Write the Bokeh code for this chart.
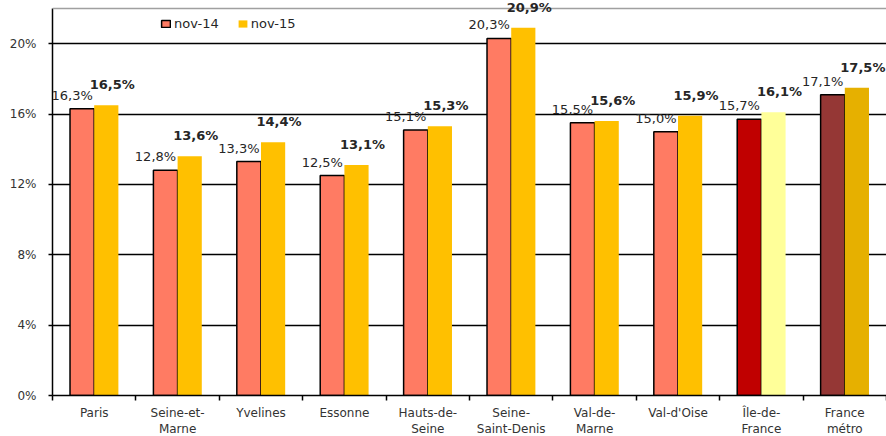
from bokeh.plotting import figure
from bokeh.models import ColumnDataSource, FixedTicker, Range1d, Legend, LegendItem, LabelSet, Span
from bokeh.core.properties import value
from bokeh.embed import file_html
from bokeh.resources import INLINE

categories = ["Paris", "Seine-et-\nMarne", "Yvelines", "Essonne", "Hauts-de-\nSeine",
              "Seine-\nSaint-Denis", "Val-de-\nMarne", "Val-d'Oise", "Île-de-\nFrance", "France\nmétro"]
nov14 = [16.3, 12.8, 13.3, 12.5, 15.1, 20.3, 15.5, 15.0, 15.7, 17.1]
nov15 = [16.5, 13.6, 14.4, 13.1, 15.3, 20.9, 15.6, 15.9, 16.1, 17.5]
y_ticks = [0, 4, 8, 12, 16, 20]
y_max = 22

colors14 = ["#FF7B63"] * 8 + ["#C00000", "#953735"]
colors15 = ["#FFC000"] * 8 + ["#FFFF99", "#E6B000"]

FONT = "DejaVu Sans"
n = len(categories)
centers = [i + 0.5 for i in range(n)]
bw = 0.29

def fmt(v):
    return ("%.1f" % v).replace(".", ",") + "%"

src14 = ColumnDataSource(dict(x=[c - bw / 2 for c in centers], top=nov14, color=colors14,
                              label=[fmt(v) for v in nov14]))
src15 = ColumnDataSource(dict(x=[c + bw / 2 for c in centers], top=nov15, color=colors15,
                              label=[fmt(v) for v in nov15]))

# frame extends 8px above the chart's top border so labels there are not clipped
p = figure(frame_width=834, frame_height=395, output_backend="svg", toolbar_location=None,
           x_range=Range1d(0, n), y_range=Range1d(0, y_max * 395 / 387),
           min_border_left=52, min_border_right=0, min_border_top=0, min_border_bottom=41)
p.background_fill_color = "white"
p.border_fill_color = "white"
p.outline_line_color = None

p.add_layout(Span(location=y_max, dimension="width", line_color="#A0A0A0", line_width=1.5))

r14 = p.vbar(x="x", top="top", width=bw, bottom=0, source=src14, fill_color="color",
             line_color="black", line_width=1.5)
r15 = p.vbar(x="x", top="top", width=bw, bottom=0, source=src15, fill_color="color",
             line_color=None)

p.add_layout(LabelSet(x="x", y="top", text="label", source=src14, text_align="center",
                      text_baseline="alphabetic", x_offset=-10, y_offset=9,
                      text_font=value(FONT), text_font_size="13px", text_color="#262626"))
p.add_layout(LabelSet(x="x", y="top", text="label", source=src15, text_align="center",
                      text_baseline="alphabetic", x_offset=6, y_offset=16,
                      text_font=value(FONT), text_font_size="13px", text_font_style="bold",
                      text_color="#262626"))

# axes
xa = p.xaxis[0]
xa.ticker = FixedTicker(ticks=centers, minor_ticks=list(range(n + 1)))
xa.major_label_overrides = {c: lab for c, lab in zip(centers, categories)}
xa.major_tick_out = 0
xa.major_tick_in = 0
xa.minor_tick_out = 5
xa.minor_tick_in = 0
xa.minor_tick_line_color = "black"
xa.minor_tick_line_width = 1.5
xa.axis_line_color = "black"
xa.axis_line_width = 1.5
xa.major_label_text_font = FONT
xa.major_label_text_font_size = "12px"
xa.major_label_text_color = "#333333"
xa.major_label_standoff = 5

ya = p.yaxis[0]
ya.ticker = FixedTicker(ticks=y_ticks)
ya.bounds = (0, y_max)
ya.major_label_overrides = {t: "%d%%" % t for t in y_ticks}
ya.major_tick_out = 4
ya.major_tick_in = 0
ya.minor_tick_line_color = None
ya.major_tick_line_color = "black"
ya.major_tick_line_width = 1.5
ya.axis_line_color = "black"
ya.axis_line_width = 1.5
ya.major_label_text_font = FONT
ya.major_label_text_font_size = "12px"
ya.major_label_text_color = "#333333"
ya.major_label_standoff = 12

p.xgrid.grid_line_color = None
p.ygrid.ticker = FixedTicker(ticks=y_ticks[1:])
p.ygrid.grid_line_color = "black"
p.ygrid.grid_line_width = 1.5

legend = Legend(items=[LegendItem(label="nov-14", renderers=[r14], index=0),
                       LegendItem(label="nov-15", renderers=[r15], index=0)],
                orientation="horizontal", location=(108, 364))
legend.border_line_color = None
legend.background_fill_alpha = 0
legend.label_text_font = FONT
legend.label_text_font_size = "13px"
legend.label_text_color = "#262626"
legend.glyph_width = 11
legend.glyph_height = 9
legend.spacing = 18
legend.label_standoff = 3
legend.padding = 0
legend.margin = 0
p.add_layout(legend, "center")

open("out.html", "w").write(file_html(p, INLINE))
